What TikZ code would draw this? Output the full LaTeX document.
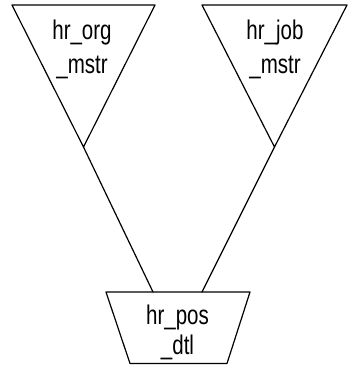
\documentclass[tikz,border=0pt]{standalone}
\usepackage{fontspec}
\setmainfont{Liberation Sans}
\usepackage{tikz}
\tikzset{
    tablebase/.style={
        x=1pt, y=-1pt,
        line width=1.2pt,
        line cap = round, line join = round,
    },
    tablelabel/.style={
        align=center, inner sep=0pt, anchor=base,
        xscale=0.76,
        font=\fontsize{27}{34}\selectfont,
    }
}
\newcommand{\invtri}[3]{% name, left x, right x
    \coordinate (#1-a) at (#2,5);
    \coordinate (#1-b) at (#3,5);
    \coordinate (#1-tip) at ({(#2+#3)/2},147);
    \draw (#1-a) -- (#1-b) -- (#1-tip) -- cycle;
}
\begin{document}
\begin{tikzpicture}
        [tablebase]
\useasboundingbox (0,0) rectangle (350,368);
\invtri{org}{12}{155};
\invtri{job}{202}{347};
\coordinate (pos-a) at (106,292);
\coordinate (pos-b) at (250,292);
\draw (pos-a) -- (pos-b) -- (227,363.5) -- (130,363.5) -- cycle;
\coordinate (pos-in1) at (153,292);
\coordinate (pos-in2) at (202,292);
\node[tablelabel] (orglabel) at (82,73.5) {hr\_org\\\_mstr};
\node[tablelabel] (joblabel) at (275,73.5) {hr\_job\\\_mstr};
\node[tablelabel, font=\fontsize{27}{30.5}\selectfont] (poslabel)
    at (177.5,354.5) {hr\_pos\\\_dtl};
\draw (org-tip) -- (pos-in1);
\draw (job-tip) -- (pos-in2);
\end{tikzpicture}
\end{document}
